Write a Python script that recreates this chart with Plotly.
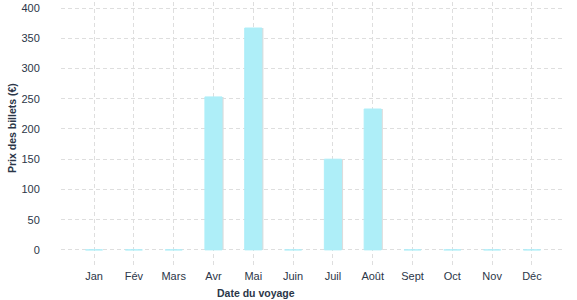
import plotly.graph_objects as go

months = ["Jan", "Fév", "Mars", "Avr", "Mai", "Juin", "Juil", "Août", "Sept", "Oct", "Nov", "Déc"]
prices = [0, 0, 0, 253, 367, 0, 150, 233, 0, 0, 0, 0]
y_ticks = [0, 50, 100, 150, 200, 250, 300, 350, 400]

txt = "#2b3648"
fig = go.Figure()
# shadow
fig.add_trace(go.Bar(x=list(range(len(months))), y=prices, width=0.43, offset=-0.215 + 0.04,
                     marker=dict(color="#dcdcdc", line=dict(width=0)), hoverinfo="skip", showlegend=False))
fig.add_trace(go.Bar(x=list(range(len(months))), y=prices, width=0.43,
                     marker=dict(color="#aeeef8", line=dict(color="#aeeef8", width=1)), showlegend=False))
fig.update_layout(
    barmode="overlay",
    width=577, height=300,
    margin=dict(l=61, r=12, t=2, b=35),
    plot_bgcolor="white", paper_bgcolor="white",
    font=dict(family="Liberation Sans, Arial", size=11, color=txt),
    xaxis=dict(tickmode="array", tickvals=list(range(len(months))), ticktext=months,
               range=[-0.83, 11.83], showgrid=True, gridcolor="#dedede", griddash="4px,3px", gridwidth=1,
               ticks="outside", ticklen=1, tickcolor="rgba(0,0,0,0)", zeroline=False, showline=False),
    yaxis=dict(tickmode="array", tickvals=y_ticks, range=[-25, 410], showgrid=True,
               gridcolor="#dedede", griddash="4px,3px", gridwidth=1, zeroline=False, showline=False,
               ticks="outside", ticklen=18, tickcolor="rgba(0,0,0,0)"),
)
fig.add_annotation(text="<b>Date du voyage</b>", xref="paper", yref="paper",
                   x=(256 - 61) / (577 - 61 - 12), y=-28 / 263, xanchor="center", yanchor="middle",
                   showarrow=False, font=dict(size=10.5, color=txt))
fig.add_annotation(text="<b>Prix des billets (€)</b>", xref="paper", yref="paper",
                   x=(12 - 61) / (577 - 61 - 12), y=(265 - 128) / 263, xanchor="center", yanchor="middle",
                   textangle=-90, showarrow=False, font=dict(size=10.5, color=txt))
fig.write_html("out.html")
